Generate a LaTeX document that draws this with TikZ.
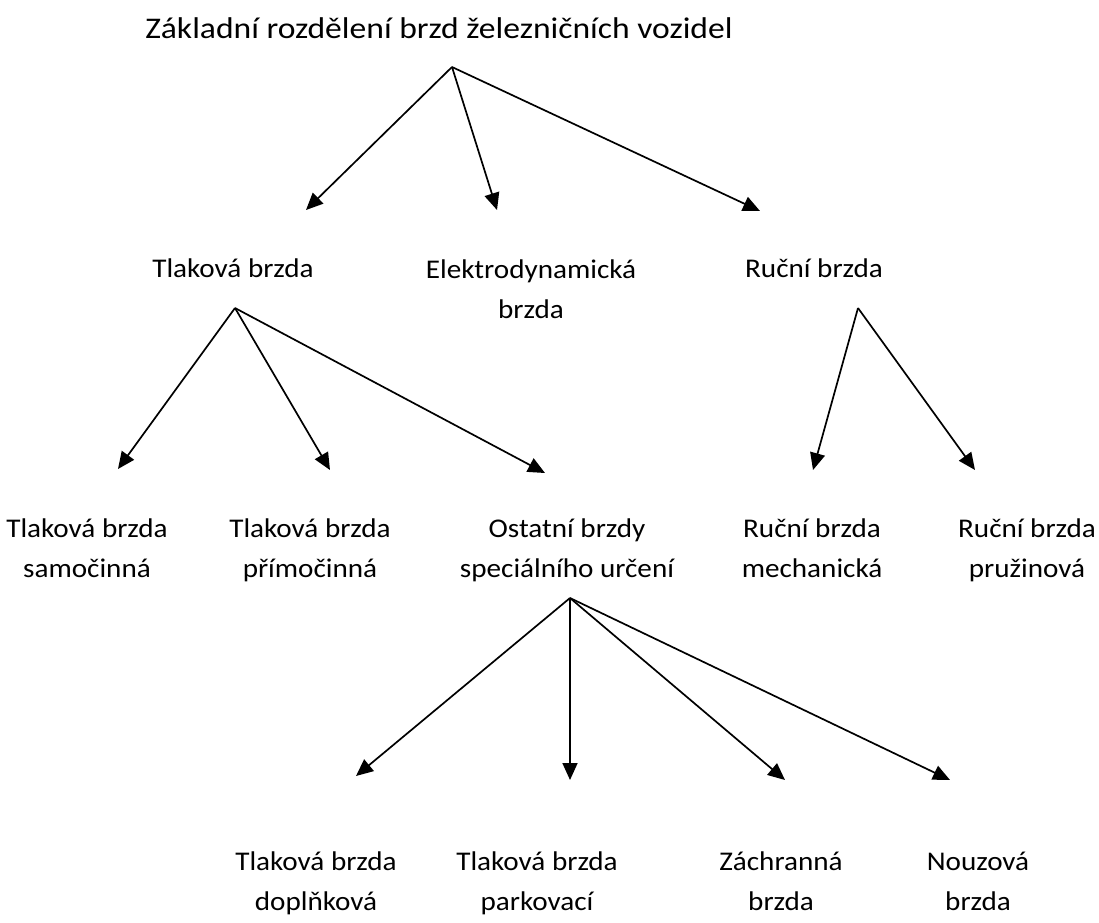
\documentclass[tikz,border=0pt]{standalone}
\usepackage{fontspec}
\setmainfont{Carlito}
\newfontfamily\lblfont{Carlito}[FakeStretch=1.08]
\newfontfamily\ttlfont{Carlito}[FakeStretch=1.12]
\usetikzlibrary{arrows.meta}
\tikzset{
  lbl/.style={align=center, inner sep=0pt, anchor=base, font=\lblfont\fontsize{27}{40}\selectfont},
  ttl/.style={inner sep=0pt, anchor=base, font=\ttlfont\fontsize{30}{40}\selectfont},
  conn/.style={line width=1.7pt, -{Triangle[length=17pt,width=15pt]}}
}
\begin{document}
\begin{tikzpicture}[x=1pt,y=-1pt]
\useasboundingbox (0,0) rectangle (1099,922);
% nodes (anchored at the baseline of their last line)
\node[ttl] (title) at (439,38) {Základní rozdělení brzd železničních vozidel};
\node[lbl] (tlak) at (233,277) {Tlaková brzda};
\node[lbl] (elek) at (531,318) {Elektrodynamická\\brzda};
\node[lbl] (rucni) at (814,277) {Ruční brzda};
\node[lbl] (sam) at (87,577) {Tlaková brzda\\samočinná};
\node[lbl] (prim) at (310,577) {Tlaková brzda\\přímočinná};
\node[lbl] (ost) at (567,577) {Ostatní brzdy\\speciálního určení};
\node[lbl] (mech) at (812,577) {Ruční brzda\\mechanická};
\node[lbl] (pruz) at (1027,577) {Ruční brzda\\pružinová};
\node[lbl] (dopl) at (316,910) {Tlaková brzda\\doplňková};
\node[lbl] (park) at (537,910) {Tlaková brzda\\parkovací};
\node[lbl] (zach) at (781,910) {Záchranná\\brzda};
\node[lbl] (nouz) at (978,910) {Nouzová\\brzda};
% connector points
\coordinate (a0) at (452,67);
\coordinate (t0a) at (306,210);
\coordinate (t0b) at (497,210);
\coordinate (t0c) at (760,211);
\coordinate (a1) at (235,308);
\coordinate (t1a) at (118,469);
\coordinate (t1b) at (330,470);
\coordinate (t1c) at (545,473);
\coordinate (a2) at (858,308);
\coordinate (t2a) at (813,470);
\coordinate (t2b) at (975,470);
\coordinate (a3) at (570,598);
\coordinate (t3a) at (356,776);
\coordinate (t3b) at (570,780);
\coordinate (t3c) at (785,780);
\coordinate (t3d) at (950,780);
% connectors
\draw[conn] (a0) -- (t0a);
\draw[conn] (a0) -- (t0b);
\draw[conn] (a0) -- (t0c);
\draw[conn] (a1) -- (t1a);
\draw[conn] (a1) -- (t1b);
\draw[conn] (a1) -- (t1c);
\draw[conn] (a2) -- (t2a);
\draw[conn] (a2) -- (t2b);
\draw[conn] (a3) -- (t3a);
\draw[conn] (a3) -- (t3b);
\draw[conn] (a3) -- (t3c);
\draw[conn] (a3) -- (t3d);
\end{tikzpicture}
\end{document}
